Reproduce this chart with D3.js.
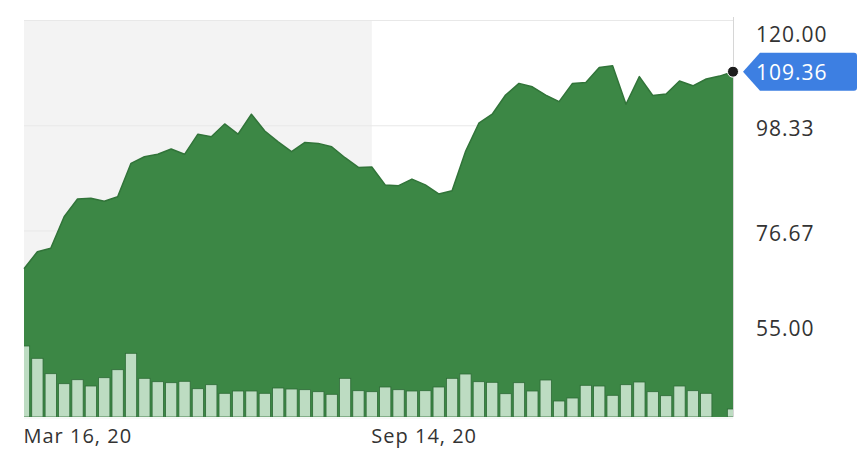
<!DOCTYPE html>
<html>
<head>
<meta charset="utf-8">
<script src="https://cdn.jsdelivr.net/npm/d3@7"></script>
<style>
  html, body { margin: 0; padding: 0; background: #fff; overflow: hidden; }
  text { font-family: "Open Sans", sans-serif; }
</style>
</head>
<body>
<script>
// weekly closes from Mar 16, 2020
const START_DATE = '2020-03-16';
const PRICES = [68.8, 72.3, 73.0, 79.5, 83.15, 83.3, 82.7, 83.6, 90.5, 91.85,
    92.35, 93.45, 92.35, 96.5, 95.95, 98.6, 96.5, 100.6, 97.15, 94.9,
    92.9, 94.8, 94.6, 93.9, 91.65, 89.65, 89.75, 86.05, 85.9, 87.25,
    86.05, 84.2, 84.85, 92.9, 98.75, 100.6, 104.55, 106.95, 106.25, 104.55,
    103.2, 106.95, 107.15, 110.2, 110.6, 102.65, 108.35, 104.45, 104.75, 107.45,
    106.45, 107.85, 108.45, 109.36];
// weekly volume, millions
const VOLUMES = [35.5, 29.35, 21.65, 16.65, 18.65, 15.5, 19.65, 23.65, 31.85, 19.35,
    17.65, 17.15, 17.85, 14.15, 16.15, 11.85, 13, 13, 11.85, 14.5,
    14, 13.65, 12.65, 11.35, 19.35, 13.15, 12.65, 15, 13.65, 13,
    13.15, 15, 19.35, 21.5, 17.65, 17.35, 11.65, 17.15, 13, 18.5,
    8, 9.5, 15.85, 15.5, 10.85, 16.15, 17.5, 12.65, 10.65, 15.5,
    13.15, 11.85, null, 4];
const PRICE_TICKS = [55.00, 76.67, 98.33, 120.00];
const DATE_TICKS = ['2020-03-16', '2020-09-14'];

const [W, H] = [868, 452];
const PLOT = { left: 24, right: 733, top: 20, bottom: 417 };
const FONT = 21;

const parse = d3.timeParse('%Y-%m-%d');
const start = parse(START_DATE);
const dates = PRICES.map((_, i) => d3.timeWeek.offset(start, i));
const data = dates.map((d, i) => ({ date: d, price: PRICES[i], volume: VOLUMES[i] }));
const last = data[data.length - 1];

const svg = d3.select('body').append('svg').attr('width', W).attr('height', H);

const x = d3.scaleTime()
    .domain(d3.extent(dates))
    .range([PLOT.left, PLOT.right]);

const y = d3.scaleLinear()
    .domain([55, 120])
    .range([335.75, PLOT.top]);

const yVol = d3.scaleLinear()
    .domain([0, 50])
    .range([PLOT.bottom, PLOT.bottom - 100]);

svg.append('clipPath').attr('id', 'plot-clip')
    .append('rect')
    .attr('x', PLOT.left).attr('y', 0)
    .attr('width', PLOT.right - PLOT.left).attr('height', PLOT.bottom);

// shaded half-year band
const [bandStart, bandEnd] = DATE_TICKS.map(parse);
svg.append('rect')
    .attr('x', x(bandStart))
    .attr('y', PLOT.top)
    .attr('width', x(bandEnd) - x(bandStart))
    .attr('height', PLOT.bottom - PLOT.top)
    .attr('fill', '#f3f3f3');

// gridlines
svg.append('g').selectAll('line')
    .data(PRICE_TICKS)
    .enter().append('line')
    .attr('x1', PLOT.left).attr('x2', PLOT.right)
    .attr('y1', d => y(d) + 0.5).attr('y2', d => y(d) + 0.5)
    .attr('stroke', '#e8e8e8');

// right edge marker
svg.append('line')
    .attr('x1', x(last.date) + 0.5).attr('x2', x(last.date) + 0.5)
    .attr('y1', PLOT.top - 3).attr('y2', PLOT.bottom)
    .attr('stroke', '#d6d6d6');

// price area
const area = d3.area()
    .x(d => x(d.date))
    .y0(PLOT.bottom)
    .y1(d => y(d.price));

svg.append('path')
    .datum(data)
    .attr('d', area)
    .attr('fill', '#3c8745');

svg.append('path')
    .datum(data)
    .attr('d', d3.line().x(d => x(d.date)).y(d => y(d.price)))
    .attr('fill', 'none')
    .attr('stroke', '#317439')
    .attr('stroke-width', 1.5)
    .attr('stroke-linejoin', 'round');

// volume bars
const barW = (x(dates[1]) - x(dates[0])) * 0.845;
svg.append('g')
    .attr('clip-path', 'url(#plot-clip)')
    .selectAll('rect')
    .data(data.filter(d => d.volume != null))
    .enter().append('rect')
    .attr('x', d => x(d.date) - barW / 2)
    .attr('y', d => yVol(d.volume))
    .attr('width', barW)
    .attr('height', d => PLOT.bottom - yVol(d.volume))
    .attr('fill', '#bddcc2')
    .attr('stroke', '#2d6a36')
    .attr('stroke-width', 0.8);

svg.append('line')
    .attr('x1', PLOT.left).attr('x2', PLOT.right)
    .attr('y1', PLOT.bottom + 1).attr('y2', PLOT.bottom + 1)
    .attr('stroke', '#f0f4f1');

// y axis
const yAxis = d3.axisRight(y)
    .tickValues(PRICE_TICKS)
    .tickFormat(d3.format('.2f'))
    .tickSize(0)
    .tickPadding(0);

const gy = svg.append('g')
    .attr('transform', 'translate(756,0)')
    .call(yAxis);
gy.select('.domain').remove();
gy.selectAll('text')
    .attr('dy', null)
    .attr('x', 0)
    .attr('y', d => Math.max(41.7, Math.min(335, y(d) + 10)) - y(d))
    .attr('text-anchor', 'start')
    .style('font-family', '"Open Sans", sans-serif')
    .style('font-size', FONT + 'px')
    .style('letter-spacing', '1px')
    .attr('fill', '#333');

// x axis
const xAxis = d3.axisBottom(x)
    .tickValues(DATE_TICKS.map(parse))
    .tickFormat(d3.timeFormat('%b %d, %y'))
    .tickSize(0)
    .tickPadding(0);

const gx = svg.append('g')
    .attr('transform', 'translate(0,' + PLOT.bottom + ')')
    .call(xAxis);
gx.select('.domain').remove();
gx.selectAll('text')
    .attr('dy', null)
    .attr('y', 26)
    .attr('x', -1)
    .attr('text-anchor', 'start')
    .style('font-family', '"Open Sans", sans-serif')
    .style('font-size', '20px')
    .style('letter-spacing', '1px')
    .attr('fill', '#333');

// last price dot + badge
const lx = x(last.date), ly = y(last.price);
svg.append('path')
    .attr('d', () => {
        const tip = lx + 10, body = tip + 17, right = 857, h = 19, r = 3;
        return `M${tip},${ly} L${body},${ly - h} L${right - r},${ly - h} Q${right},${ly - h} ${right},${ly - h + r}` +
            ` L${right},${ly + h - r} Q${right},${ly + h} ${right - r},${ly + h} L${body},${ly + h} Z`;
    })
    .attr('fill', '#3d7fe2');

svg.append('text')
    .attr('x', 756)
    .attr('y', ly + 8.5)
    .style('font-size', FONT + 'px')
    .style('letter-spacing', '1px')
    .attr('fill', '#fff')
    .text(d3.format('.2f')(last.price));

svg.append('circle')
    .attr('cx', lx)
    .attr('cy', ly)
    .attr('r', 5.5)
    .attr('fill', '#1c1c1c')
    .attr('stroke', '#fff')
    .attr('stroke-width', 1);
</script>
</body>
</html>
